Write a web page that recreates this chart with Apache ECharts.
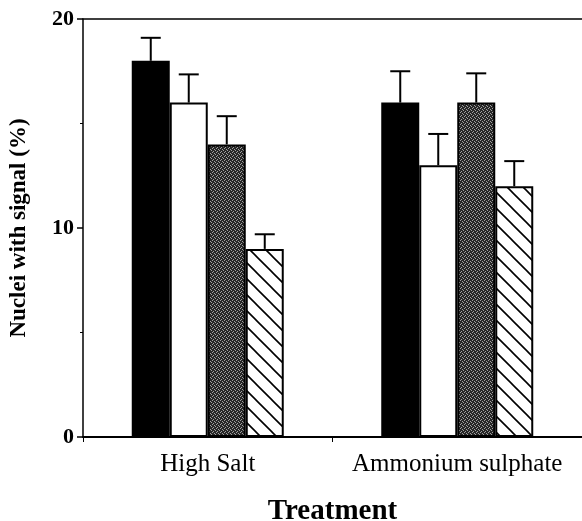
<!DOCTYPE html>
<html>
<head>
<meta charset="utf-8">
<script src="https://cdn.jsdelivr.net/npm/echarts@6/dist/echarts.min.js"></script>
<style>html,body{margin:0;padding:0;background:#fff}#c{width:582px;height:521px}</style>
</head>
<body>
<div id="c"></div>
<script>
const categories = ['High Salt', 'Ammonium sulphate'];
const blackVals = [18.0, 16.0];
const blackErr = [1.1, 1.5];
const whiteVals = [16.0, 13.0];
const whiteErr = [1.35, 1.5];
const grayVals = [14.0, 16.0];
const grayErr = [1.35, 1.4];
const hatchVals = [9.0, 12.0];
const hatchErr = [0.7, 1.2];
const yMin = 0, yMax = 20, yInterval = 10;

function makeHatch() {
  const s = 16;
  const c = document.createElement('canvas');
  c.width = s; c.height = s;
  const g = c.getContext('2d');
  g.fillStyle = '#fff'; g.fillRect(0, 0, s, s);
  g.strokeStyle = '#000'; g.lineWidth = 1.6;
  g.beginPath();
  g.moveTo(-2, -2); g.lineTo(s + 2, s + 2);
  g.moveTo(-2, s - 2); g.lineTo(2, s + 2);
  g.moveTo(s - 2, -2); g.lineTo(s + 2, 2);
  g.stroke();
  return c;
}
function makeStipple() {
  const s = 4;
  const c = document.createElement('canvas');
  c.width = s; c.height = s;
  const g = c.getContext('2d');
  g.fillStyle = '#262626'; g.fillRect(0, 0, s, s);
  g.fillStyle = '#a0a0a0';
  [[0,0],[2,1],[1,3],[3,2]].forEach(p => g.fillRect(p[0], p[1], 1, 1));
  return c;
}

const barW = 38;
const font = 'Liberation Serif';
const fills = ['#000', '#fff', {image: makeStipple(), repeat: 'repeat'}, {image: makeHatch(), repeat: 'repeat'}];
const vals = [blackVals, whiteVals, grayVals, hatchVals];
const errs = [blackErr, whiteErr, grayErr, hatchErr];

const series = [];
vals.forEach((v, i) => {
  series.push({
    type: 'bar', data: v, barWidth: barW, barGap: '0%',
    itemStyle: {color: fills[i], borderColor: '#000', borderWidth: 2},
    z: 2
  });
});
vals.forEach((v, i) => {
  series.push({
    type: 'custom',
    data: v.map((val, k) => [k, val, val + errs[i][k]]),
    z: 3,
    renderItem: function (params, api) {
      const base = api.coord([api.value(0), api.value(1)]);
      const top = api.coord([api.value(0), api.value(2)]);
      const x = base[0] + (i - 1.5) * barW;
      const st = {stroke: '#000', lineWidth: 2};
      return {type: 'group', children: [
        {type: 'line', shape: {x1: x, y1: base[1], x2: x, y2: top[1]}, style: st},
        {type: 'line', shape: {x1: x - 10, y1: top[1], x2: x + 10, y2: top[1]}, style: st}
      ]};
    }
  });
});

const chart = echarts.init(document.getElementById('c'));
chart.setOption({
  animation: false,
  backgroundColor: '#fff',
  grid: {left: 83, top: 19, width: 499, height: 418, outerBoundsMode: 'none', containLabel: false},
  xAxis: [{
    type: 'category', data: categories,
    axisLine: {lineStyle: {color: '#000', width: 2}},
    axisTick: {show: true, length: 5, lineStyle: {color: '#000', width: 1}},
    axisLabel: {fontFamily: font, fontSize: 25, color: '#000', margin: 15, interval: 0},
    name: 'Treatment', nameLocation: 'middle', nameGap: 60,
    nameTextStyle: {fontFamily: font, fontSize: 29, fontWeight: 'bold', color: '#000'}
  }, {
    type: 'category', data: categories, position: 'top',
    axisLine: {lineStyle: {color: '#000', width: 1.5}},
    axisTick: {show: false}, axisLabel: {show: false}
  }],
  yAxis: {
    type: 'value', min: yMin, max: yMax, interval: yInterval,
    splitLine: {show: false},
    axisLine: {show: true, lineStyle: {color: '#000', width: 1.5}},
    axisTick: {show: true, length: 6, lineStyle: {color: '#000', width: 1.5}},
    minorTick: {show: true, splitNumber: 2, length: 3, lineStyle: {color: '#000', width: 1}},
    axisLabel: {fontFamily: font, fontSize: 22, fontWeight: 'bold', color: '#000', margin: 9},
    name: 'Nuclei with signal (%)', nameLocation: 'middle', nameGap: 52,
    nameTextStyle: {fontFamily: font, fontSize: 23, fontWeight: 'bold', color: '#000'}
  },
  series: series
});
</script>
</body>
</html>
